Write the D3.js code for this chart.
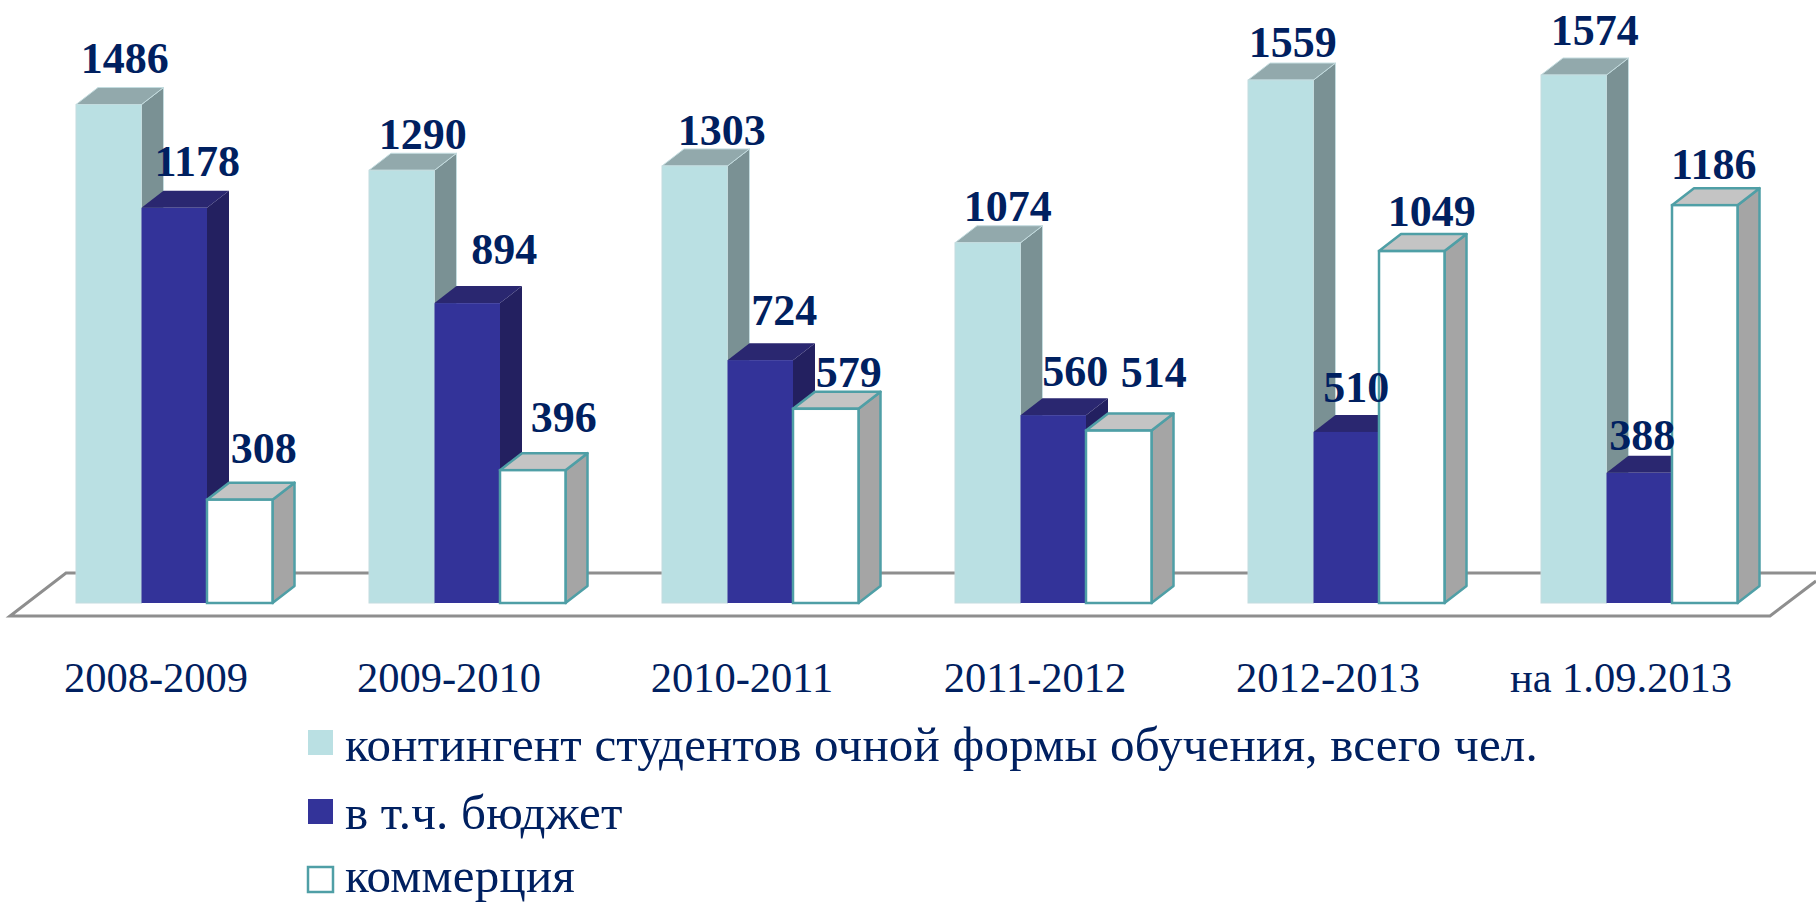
<!DOCTYPE html>
<html>
<head>
<meta charset="utf-8">
<script src="https://cdn.jsdelivr.net/npm/d3@7"></script>
<style>
  html, body { margin: 0; background: #fff; overflow: hidden; }
  text { font-family: "Liberation Serif", serif; fill: #002060; }
  .value { font-size: 44px; font-weight: bold; }
  .axis text { font-size: 42.5px; }
  .legend-label { font-size: 49px; letter-spacing: 0.22px; }
</style>
</head>
<body>
<svg id="chart" width="1816" height="904"></svg>
<script>
const categories = ["2008-2009", "2009-2010", "2010-2011", "2011-2012", "2012-2013", "на 1.09.2013"];
const seriesNames = ["контингент студентов очной формы обучения, всего чел.", "в т.ч. бюджет", "коммерция"];
const total = [1486, 1290, 1303, 1074, 1559, 1574];
const budget = [1178, 894, 724, 560, 510, 388];
const commerce = [308, 396, 579, 514, 1049, 1186];

// label nudges from the default spot above each bar [dx, dy]
const totalNudge = [[1, 0], [6, 11], [12, 11], [5, 10], [-3, 9], [6, 2]];
const budgetNudge = [[8, 0], [22, -7], [9, -3], [7, 3], [-5, 2], [-12, 9]];
const commerceNudge = [[9, -5], [16, -6], [8, 10], [20, -12], [5, 7], [-6, 6]];

const svg = d3.select("#chart");
const baseY = 603, depthX = 22, depthY = 17;

const y = d3.scaleLinear().domain([0, 1574]).range([baseY, 75]);
const x0 = d3.scaleBand().domain(categories).range([76, 76 + 293 * 6]);
const x1 = d3.scaleBand().domain(seriesNames).range([0, 196.5]);

const styles = [
  { front: "#bae0e3", side: "#7a9194", top: "#92a9ac", stroke: "#c4dcdf", sw: 1 },
  { front: "#333399", side: "#232060", top: "#2a2770", stroke: "#333399", sw: 0 },
  { front: "#ffffff", side: "#a5a5a5", top: "#c4c4c4", stroke: "#4f9fa6", sw: 2.5 }
];
const values = [total, budget, commerce];
const nudges = [totalNudge, budgetNudge, commerceNudge];

// floor
const floor = svg.append("g").attr("fill", "none").attr("stroke", "#8e8e8e").attr("stroke-width", 3);
floor.append("path").attr("d", "M1816,573H66L10,616H1770L1816,581");

// bars, group by group so that later bars cover the sides of earlier ones
const line = d3.line();
categories.forEach((cat, i) => {
  const g = svg.append("g").attr("class", "group");
  seriesNames.forEach((name, s) => {
    const st = styles[s];
    const xl = x0(cat) + x1(name), xr = xl + x1.bandwidth();
    const yt = y(values[s][i]);
    g.append("path").attr("fill", st.side)
      .attr("stroke", st.sw > 0 ? st.stroke : "none").attr("stroke-width", st.sw)
      .attr("stroke-linejoin", "round")
      .attr("d", line([[xr, yt], [xr + depthX, yt - depthY], [xr + depthX, baseY - depthY], [xr, baseY]]) + "Z");
    g.append("path").attr("fill", st.top)
      .attr("stroke", st.sw > 0 ? st.stroke : "none").attr("stroke-width", st.sw)
      .attr("stroke-linejoin", "round")
      .attr("d", line([[xl, yt], [xl + depthX, yt - depthY], [xr + depthX, yt - depthY], [xr, yt]]) + "Z");
    g.append("rect").attr("x", xl).attr("y", yt)
      .attr("width", x1.bandwidth()).attr("height", baseY - yt)
      .attr("fill", st.front)
      .attr("stroke", st.sw > 0 ? st.stroke : "none").attr("stroke-width", st.sw);
  });
});

// value labels
seriesNames.forEach((name, s) => {
  svg.append("g").selectAll("text").data(values[s]).join("text")
    .attr("class", "value")
    .attr("text-anchor", "middle")
    .attr("x", (d, i) => x0(categories[i]) + x1(name) + x1.bandwidth() / 2 + 15 + nudges[s][i][0])
    .attr("y", (d, i) => y(d) - depthY - 15 + nudges[s][i][1])
    .text(d => d);
});

// category axis
const axis = svg.append("g").attr("class", "axis")
  .attr("transform", `translate(-66.5,${baseY + 89})`)
  .call(d3.axisBottom(x0).tickSize(0).tickPadding(0));
axis.select(".domain").remove();
axis.selectAll("text").attr("dy", 0).attr("y", 0);

// legend
const legendY = d3.scaleOrdinal().domain(seriesNames).range([761, 829, 892]);
const legend = svg.append("g").selectAll("g").data(seriesNames).join("g")
  .attr("transform", d => `translate(0,${legendY(d)})`);
legend.append("rect")
  .attr("x", 308).attr("y", (d, i) => [-31, -30, -25][i]).attr("width", 25).attr("height", 25)
  .attr("fill", (d, i) => styles[i].front)
  .attr("stroke", (d, i) => i === 2 ? styles[i].stroke : "none")
  .attr("stroke-width", 2.5);
legend.append("text").attr("class", "legend-label").attr("x", 345).text(d => d);
</script>
</body>
</html>
